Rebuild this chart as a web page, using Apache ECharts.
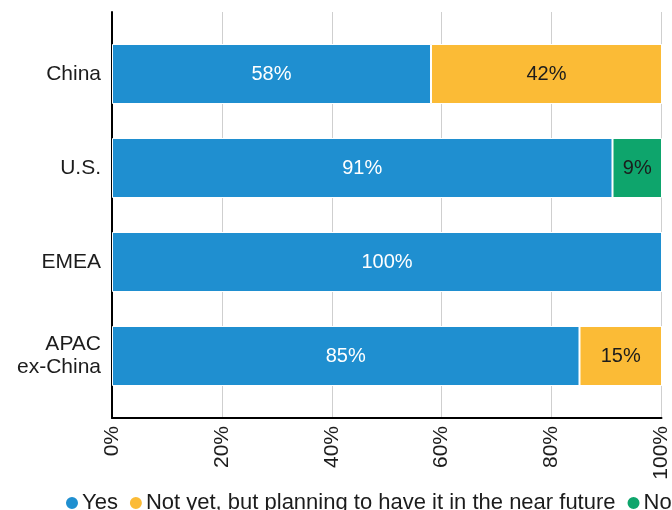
<!DOCTYPE html>
<html>
<head>
<meta charset="utf-8">
<script src="https://cdn.jsdelivr.net/npm/echarts@6/dist/echarts.min.js"></script>
<style>
  html, body { margin: 0; padding: 0; background: #fff; }
  #chart { width: 672px; height: 510px; }
</style>
</head>
<body>
<div id="chart"></div>
<script>
// Regions, top to bottom
const regions = ['China', 'U.S.', 'EMEA', 'APAC\nex-China'];
// Share of respondents per answer (%)
const yesValues = [58, 91, 100, 85];
const notYetValues = [42, 0, 0, 15];
const noValues = [0, 9, 0, 0];
const xTicks = [0, 20, 40, 60, 80, 100];

const FONT = '"Liberation Sans", Arial, sans-serif';
const TEXT = '#1c1c1c';
const colors = { yes: '#1f8fd0', notYet: '#fbbb36', no: '#0ea56c' };

function seg(name, data, color, labelColor) {
  return {
    name: name,
    type: 'bar',
    stack: 'total',
    xAxisIndex: 1,
    yAxisIndex: 1,
    data: data,
    barWidth: 60,
    itemStyle: { color: color, borderColor: '#fff', borderWidth: 1 },
    label: {
      show: true,
      position: 'inside',
      color: labelColor,
      fontFamily: FONT,
      fontSize: 20,
      formatter: p => (p.value > 0 ? p.value + '%' : '')
    }
  };
}

const chart = echarts.init(document.getElementById('chart'), null, { renderer: 'canvas' });
chart.setOption({
  animation: false,
  textStyle: { fontFamily: FONT },
  legend: {
    left: 59,
    top: 487,
    width: 900,
    icon: 'circle',
    itemWidth: 14,
    itemHeight: 14,
    itemGap: 10,
    textStyle: { fontFamily: FONT, fontSize: 22, color: TEXT, padding: [0, 0, 0, -2] },
    data: ['Yes', 'Not yet, but planning to have it in the near future', 'No']
  },
  grid: [
    // frame: axis lines, gridlines and tick labels
    { left: 112, right: 10, top: 12, bottom: 92 },
    // bars
    { left: 112, right: 10, top: 27, height: 376 }
  ],
  xAxis: [
    {
      gridIndex: 0,
      type: 'value',
      min: 0,
      max: 100,
      interval: 20,
      axisLine: { show: true, lineStyle: { color: '#000', width: 2 } },
      axisTick: { show: false },
      splitLine: { show: true, lineStyle: { color: '#cfcfcf', width: 1 } },
      axisLabel: {
        rotate: 90,
        margin: 8,
        fontSize: 21,
        color: TEXT,
        fontFamily: FONT,
        formatter: v => v + '%',
        customValues: xTicks
      }
    },
    {
      gridIndex: 1,
      type: 'value',
      min: 0,
      max: 100,
      show: false
    }
  ],
  yAxis: [
    {
      gridIndex: 0,
      type: 'value',
      min: 0,
      max: 1,
      axisLine: { show: true, lineStyle: { color: '#000', width: 2 } },
      axisTick: { show: false },
      axisLabel: { show: false },
      splitLine: { show: false }
    },
    {
      gridIndex: 1,
      type: 'category',
      inverse: true,
      data: regions,
      axisLine: { show: false },
      axisTick: { show: false },
      axisLabel: {
        margin: 11,
        fontSize: 21,
        lineHeight: 23,
        color: TEXT,
        fontFamily: FONT
      }
    }
  ],
  series: [
    seg('Yes', yesValues, colors.yes, '#ffffff'),
    seg('Not yet, but planning to have it in the near future', notYetValues, colors.notYet, TEXT),
    seg('No', noValues, colors.no, TEXT)
  ]
});
</script>
</body>
</html>
